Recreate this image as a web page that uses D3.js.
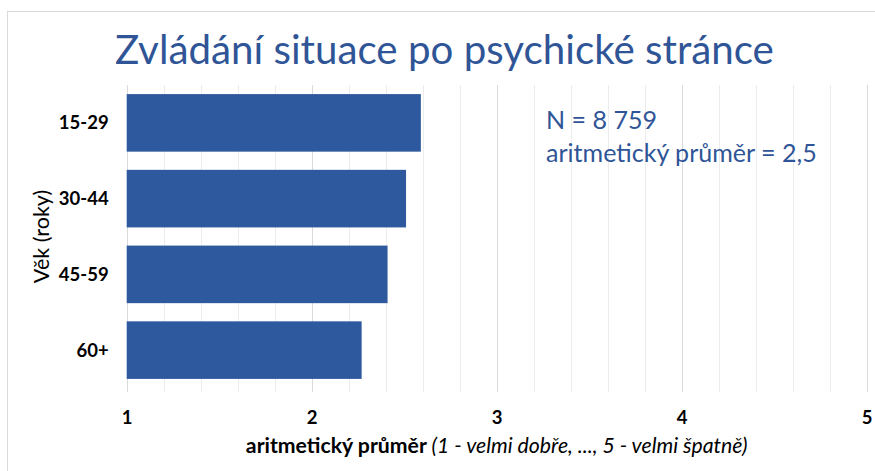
<!DOCTYPE html>
<html>
<head>
<meta charset="utf-8">
<script src="https://cdn.jsdelivr.net/npm/d3@7"></script>
<style>
  html, body { margin: 0; padding: 0; background: #fff; }
  svg { display: block; }
</style>
</head>
<body>
<svg id="chart" width="875" height="471"></svg>
<script>
// ---- data ----
const categories = ["15-29", "30-44", "45-59", "60+"];
const values = [2.59, 2.51, 2.41, 2.27];
const xTicks = [1, 2, 3, 4, 5];
const titleText = "Zvládání situace po psychické stránce";
const yAxisTitle = "Věk (roky)";
const xAxisTitleBold = "aritmetický průměr";
const xAxisTitleItalic = "(1 - velmi dobře, ..., 5 - velmi špatně)";
const noteLines = ["N = 8 759", "aritmetický průměr = 2,5"];

// ---- layout ----
const W = 875, H = 471;
const plot = { left: 126.7, right: 866.7, top: 85, bottom: 388 };
const barColor = "#2f599e";
const textBlue = "#2f5597";
const font = "Lato, 'Open Sans', sans-serif";

const svg = d3.select("#chart");

// frame
svg.append("rect")
  .attr("x", 7.5).attr("y", 11.5)
  .attr("width", W).attr("height", H)
  .attr("fill", "#fff").attr("stroke", "#d9d9d9").attr("stroke-width", 1);

const x = d3.scaleLinear().domain([1, 5]).range([plot.left, plot.right]);
const y = d3.scaleBand().domain(categories).range([plot.top, plot.bottom])
  .paddingInner(0.24).paddingOuter(0.12);

// minor gridlines every 0.2
const minor = d3.range(1, 5.0001, 0.2).map(v => +v.toFixed(1));
svg.append("g").selectAll("line").data(minor).join("line")
  .attr("x1", d => Math.round(x(d)) + 0.5).attr("x2", d => Math.round(x(d)) + 0.5)
  .attr("y1", plot.top).attr("y2", plot.bottom + 4)
  .attr("stroke", d => Number.isInteger(d) ? "#d9d9d9" : "#ececec")
  .attr("stroke-width", 1);

// bars
svg.append("g").selectAll("rect").data(categories).join("rect")
  .attr("x", x(1))
  .attr("y", d => y(d))
  .attr("width", (d, i) => x(values[i]) - x(1))
  .attr("height", y.bandwidth())
  .attr("fill", barColor);

// y axis labels
const yAxis = d3.axisLeft(y).tickSize(0).tickPadding(18);
const gy = svg.append("g").attr("transform", `translate(${plot.left},0)`).call(yAxis);
gy.select(".domain").remove();
gy.selectAll("text")
  .attr("font-family", font).attr("font-size", 18.5).attr("font-weight", "bold")
  .attr("fill", "#000").attr("dy", "0.35em");

// x axis labels
const xAxis = d3.axisBottom(x).tickValues(xTicks).tickFormat(d3.format("d")).tickSize(0).tickPadding(23);
const gx = svg.append("g").attr("transform", `translate(0,${plot.bottom})`).call(xAxis);
gx.select(".domain").remove();
gx.selectAll("text")
  .attr("font-family", font).attr("font-size", 18.5).attr("font-weight", "bold")
  .attr("fill", "#000");

// fit helper
function fitWidth(sel, target) {
  const w = sel.node().getComputedTextLength();
  const fs = parseFloat(sel.attr("font-size"));
  sel.attr("font-size", fs * target / w);
  return fs * target / w;
}

// title
const title = svg.append("text")
  .attr("x", (115 + 774) / 2).attr("y", 64)
  .attr("text-anchor", "middle")
  .attr("font-family", font).attr("font-size", 40)
  .attr("fill", textBlue)
  .text(titleText);
fitWidth(title, 659);

// y axis title
svg.append("text")
  .attr("transform", `translate(49,${(plot.top + plot.bottom) / 2}) rotate(-90)`)
  .attr("text-anchor", "middle")
  .attr("font-family", font).attr("font-size", 21.5)
  .attr("fill", "#000")
  .text(yAxisTitle);

// x axis title
const xt = svg.append("text")
  .attr("x", (plot.left + plot.right) / 2).attr("y", 453)
  .attr("text-anchor", "middle")
  .attr("font-family", font).attr("font-size", 16.5)
  .attr("fill", "#000");
xt.append("tspan").attr("font-weight", "bold").text(xAxisTitleBold + " ");
xt.append("tspan").attr("font-style", "italic").text(xAxisTitleItalic);
fitWidth(xt, 502);

// note
const note1 = svg.append("text")
  .attr("x", 546).attr("y", 129)
  .attr("font-family", font).attr("fill", textBlue)
  .text(noteLines[0]);
const note2 = svg.append("text")
  .attr("x", 546).attr("y", 162)
  .attr("font-family", font).attr("font-size", 20).attr("fill", textBlue)
  .text(noteLines[1]);
const nfs = fitWidth(note2, 271);
note1.attr("font-size", nfs);
</script>
</body>
</html>
